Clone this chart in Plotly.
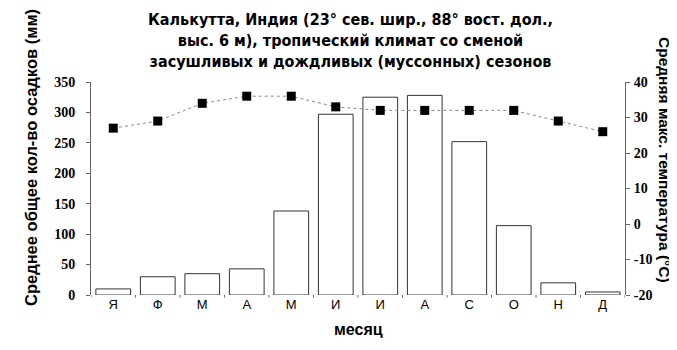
import plotly.graph_objects as go

# data
months = ['Я', 'Ф', 'М', 'А', 'М', 'И', 'И', 'А', 'С', 'О', 'Н', 'Д']
precip_mm = [10, 30, 35, 43, 138, 297, 325, 328, 252, 114, 20, 5]
max_temp_c = [27, 29, 34, 36, 36, 33, 32, 32, 32, 32, 29, 26]
temp_ticks = [-20, -10, 0, 10, 20, 30, 40]

month_ids = list(range(len(months)))

SERIF = 'Liberation Serif'
SANS = 'Liberation Sans'
NARROW = 'Liberation Sans Narrow, DejaVu Sans Condensed'
AXIS_GRAY = '#666666'

fig = go.Figure()

fig.add_trace(go.Bar(
    x=month_ids,
    y=precip_mm,
    marker=dict(color='white', line=dict(color='#333333', width=1)),
    width=0.78,
    showlegend=False,
))

fig.add_trace(go.Scatter(
    x=month_ids,
    y=max_temp_c,
    mode='lines+markers',
    line=dict(color='#888888', width=1, dash='dot'),
    marker=dict(symbol='square', size=9, color='black'),
    yaxis='y2',
    showlegend=False,
))

fig.update_layout(
    width=677,
    height=350,
    margin=dict(l=83, r=60, t=74, b=63),
    paper_bgcolor='white',
    plot_bgcolor='white',
    font=dict(family=SERIF, size=14, color='black', weight='bold'),
    xaxis=dict(
        range=[-0.5, 11.5],
        tickmode='array',
        tickvals=month_ids,
        ticktext=months,
        showline=False,
        showgrid=False,
        zeroline=False,
        ticks='',
        tickfont=dict(family=SANS, size=13, color='black', weight='normal'),
    ),
    yaxis=dict(
        range=[0, 350],
        dtick=50,
        showline=True,
        linecolor=AXIS_GRAY,
        linewidth=1,
        ticks='outside',
        ticklen=4,
        tickcolor=AXIS_GRAY,
        ticklabelstandoff=8,
        showgrid=False,
        zeroline=False,
        tickfont=dict(color='black', size=14),
    ),
    yaxis2=dict(
        range=[-20, 40],
        overlaying='y',
        side='right',
        showline=True,
        linecolor=AXIS_GRAY,
        linewidth=1,
        ticks='outside',
        ticklen=4,
        tickcolor=AXIS_GRAY,
        ticklabelstandoff=1,
        showgrid=False,
        zeroline=False,
        tickmode='array',
        tickvals=temp_ticks,
        ticktext=[str(t) for t in temp_ticks],
        tickfont=dict(family=SERIF, color='black', size=14),
    ),
)

# small boundary ticks between the months along the baseline
for b in [i + 0.5 for i in range(-1, 12)]:
    fig.add_shape(type='line', xref='x', yref='paper', x0=b, x1=b, y0=0, y1=-0.012,
                  line=dict(color=AXIS_GRAY, width=1))

# title as an annotation so all three lines stay inside the page
fig.add_annotation(
    text='Калькутта, Индия (23° сев. шир., 88° вост. дол.,<br>'
         'выс. 6 м), тропический климат со сменой<br>'
         'засушливых и дождливых (муссонных) сезонов',
    xref='paper', yref='paper', x=(342 - 83) / 534, y=(287 - 0) / 213,
    showarrow=False, xanchor='center', yanchor='top', align='center',
    font=dict(family=NARROW, size=16, color='black', weight='bold'),
)
fig.add_annotation(
    text='Среднее общее кол-во осадков (мм)',
    xref='paper', yref='paper', x=(23 - 83) / 534, y=(287 - 150) / 213,
    showarrow=False, textangle=-90, xanchor='center', yanchor='middle',
    font=dict(family=SANS, size=16.5, color='black', weight='bold'),
)
fig.add_annotation(
    text='Средняя макс. температура (°С)',
    xref='paper', yref='paper', x=(657 - 83) / 534, y=(287 - 152) / 213,
    showarrow=False, textangle=90, xanchor='center', yanchor='middle',
    font=dict(family=SANS, size=15.5, color='black', weight='bold'),
)
fig.add_annotation(
    text='месяц',
    xref='paper', yref='paper', x=(350 - 83) / 534, y=(287 - 321) / 213,
    showarrow=False, xanchor='center', yanchor='middle',
    font=dict(family=SANS, size=16, color='black', weight='bold'),
)

fig.write_html('out.html')
